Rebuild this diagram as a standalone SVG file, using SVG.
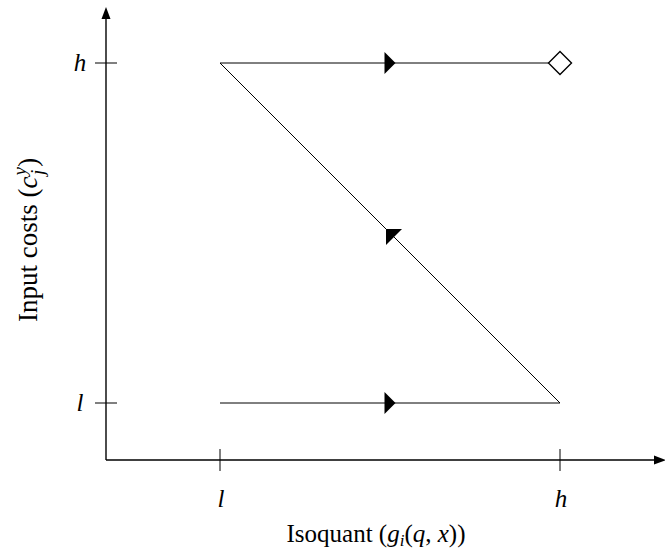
<svg xmlns="http://www.w3.org/2000/svg" width="665" height="553" viewBox="0 0 665 553">
<style>
.axis{stroke:#000;stroke-width:1.4;fill:none}
.tick{stroke:#000;stroke-width:1;fill:none}
.edge{stroke:#000;stroke-width:1;fill:none}
.arr{fill:#000;stroke:none}
.lbl{font-family:"Liberation Serif",serif;font-size:25px;fill:#000}
.it{font-style:italic}
</style>
<rect width="665" height="553" fill="#fff"/>
<g id="axes">
<line class="axis" x1="106" y1="460" x2="106" y2="17"/>
<polygon class="arr" points="106,7 101.5,19 110.5,19"/>
<line class="axis" x1="106" y1="460" x2="656" y2="460"/>
<polygon class="arr" points="666,460 654,455.5 654,464.5"/>
<line class="tick" x1="95" y1="63" x2="117" y2="63"/>
<line class="tick" x1="95" y1="403" x2="117" y2="403"/>
<line class="tick" x1="220" y1="449" x2="220" y2="471"/>
<line class="tick" x1="560" y1="449" x2="560" y2="471"/>
<text class="lbl it" x="80" y="71" text-anchor="middle">h</text>
<text class="lbl it" x="80" y="411" text-anchor="middle">l</text>
<text class="lbl it" x="221" y="507" text-anchor="middle">l</text>
<text class="lbl it" x="561" y="507" text-anchor="middle">h</text>
<text class="lbl" x="376" y="542" text-anchor="middle">Isoquant (<tspan class="it">g</tspan><tspan class="it" font-size="17" dy="4">i</tspan><tspan dy="-4">(</tspan><tspan class="it">q</tspan>, <tspan class="it">x</tspan>))</text>
<text class="lbl" style="font-size:27px" transform="translate(37,322) rotate(-90)">Input costs (<tspan class="it">c</tspan><tspan class="it" font-size="19" dx="1" dy="-11">y</tspan><tspan class="it" font-size="19" dx="-8" dy="18">j</tspan><tspan dx="3" dy="-7">)</tspan></text>
</g>
<g id="connectors">
<line class="edge" x1="220" y1="63" x2="549" y2="63"/>
<polygon class="arr" points="395.5,63 384.5,52 384.5,74"/>
<line class="edge" x1="220" y1="63" x2="560" y2="403"/>
<polygon class="arr" points="386,229 402,229 386,245"/>
<line class="edge" x1="220" y1="403" x2="560" y2="403"/>
<polygon class="arr" points="395.5,403 384.5,392 384.5,414"/>
</g>
<g id="node-end">
<polygon points="560,51.5 571.5,63 560,74.5 548.5,63" fill="#fff" stroke="#000" stroke-width="1.4"/>
</g>
</svg>
